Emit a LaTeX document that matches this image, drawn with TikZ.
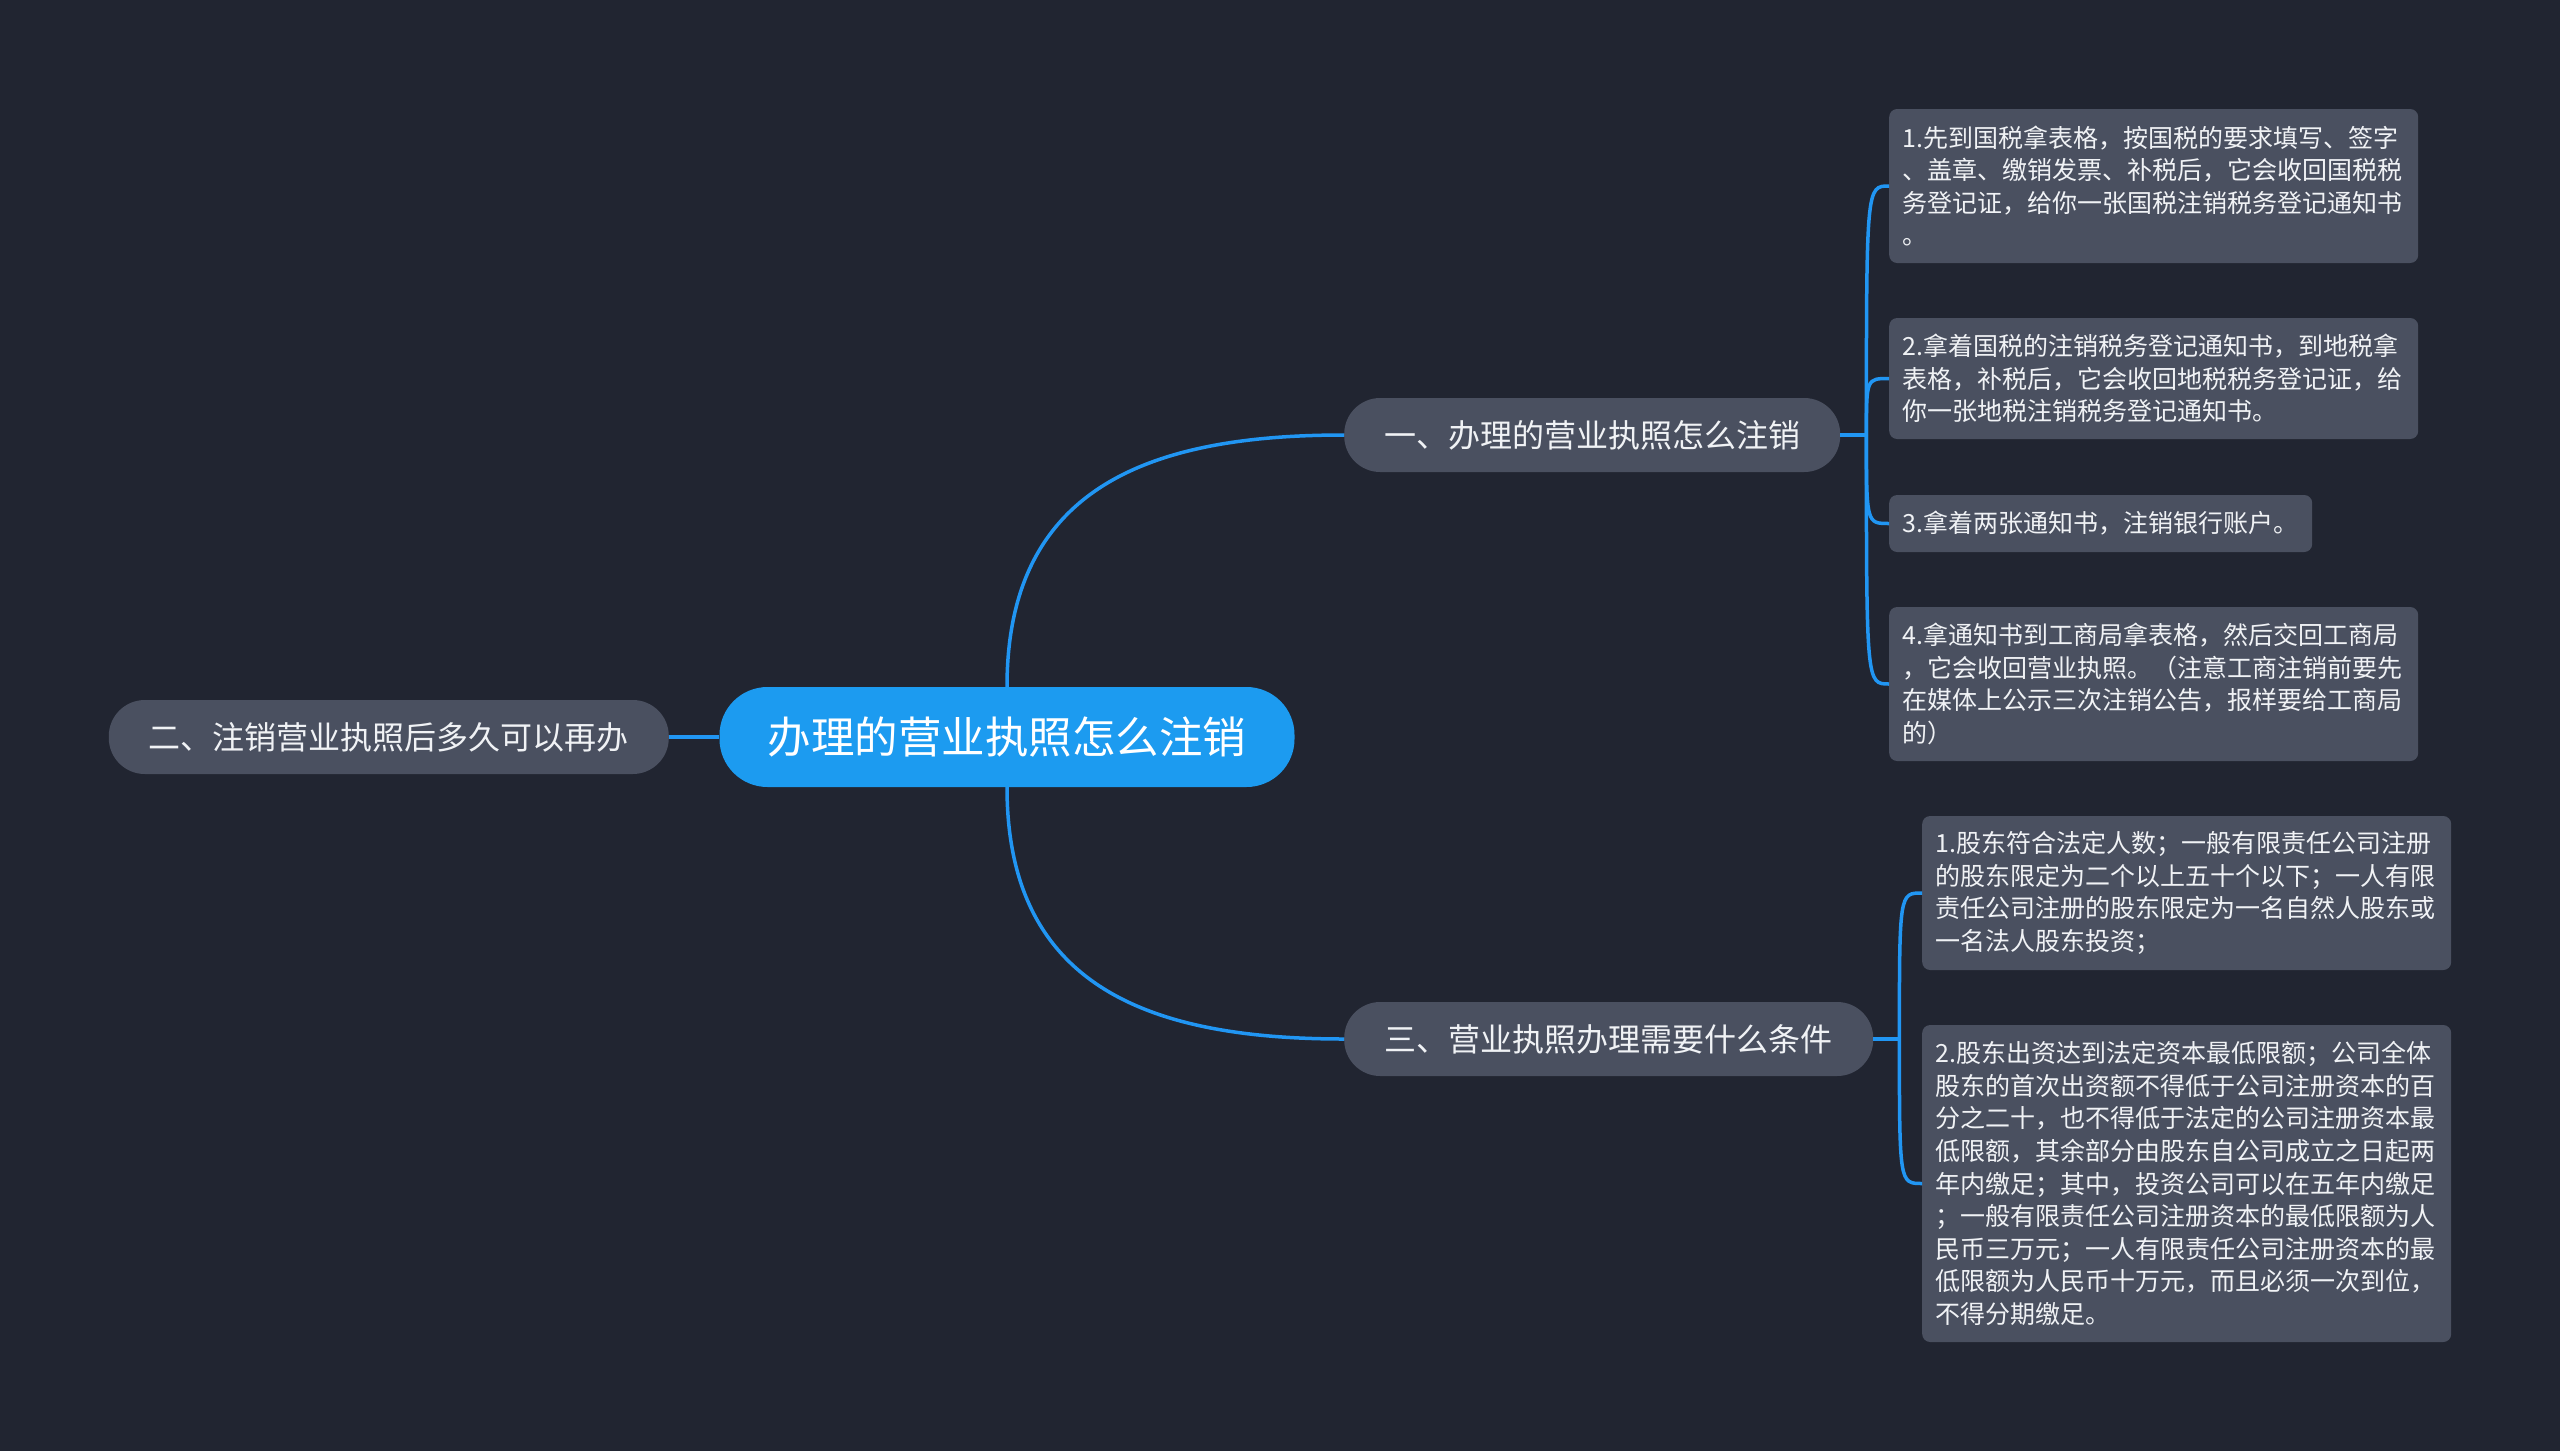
\documentclass[tikz,border=0pt]{standalone}
\usepackage{fontspec}
\newfontfamily\cjkfont{Noto Sans CJK SC}
\usepackage{xcolor}
\definecolor{bgdark}{RGB}{33,37,49}
\definecolor{nodegray}{RGB}{74,80,96}
\definecolor{rootblue}{RGB}{28,155,240}
\definecolor{linkblue}{RGB}{33,150,243}
\definecolor{txtwhite}{RGB}{240,242,245}
\usepackage{tikz}
\usetikzlibrary{calc}

\begin{document}
\begin{tikzpicture}[x=1pt,y=-1pt,
  link/.style={linkblue,line width=3.5pt},
  topic/.style={fill=nodegray,text=txtwhite,rounded corners=36pt,minimum height=74pt,
    inner sep=0pt,font=\cjkfont\fontsize{32}{38}\selectfont},
  leaf/.style={fill=nodegray,text=txtwhite,rounded corners=8pt,inner xsep=13pt,inner ysep=0pt,
    text width=503pt,align=left,font=\cjkfont\fontsize{25}{32.6}\selectfont}]
  % background, also fixes the page size
  \fill[bgdark] (0,0) rectangle (2560,1451);

  % centre topic
  \node[fill=rootblue,text=white,rounded corners=48pt,minimum width=575pt,minimum height=100pt,
    inner sep=0pt,font=\cjkfont\fontsize{43.5}{50}\selectfont] (root) at (1007,737) {办理的营业执照怎么注销};

  % main branches
  \node[topic,anchor=west,minimum width=496pt] (howto) at (1344,435) {一、办理的营业执照怎么注销};
  \node[topic,anchor=east,minimum width=560pt] (again) at (669,737) {二、注销营业执照后多久可以再办};
  \node[topic,anchor=west,minimum width=529pt] (needs) at (1344,1039) {三、营业执照办理需要什么条件};

  % steps of the first branch
  \node[leaf,anchor=west,minimum height=154pt] (st1) at (1889,186) {1.先到国税拿表格，按国税的要求填写、签字\\、盖章、缴销发票、补税后，它会收回国税税\\务登记证，给你一张国税注销税务登记通知书\\。};
  \node[leaf,anchor=west,minimum height=121pt] (st2) at (1889,378.5) {2.拿着国税的注销税务登记通知书，到地税拿\\表格，补税后，它会收回地税税务登记证，给\\你一张地税注销税务登记通知书。};
  \node[leaf,anchor=west,minimum height=57pt,text width=397pt] (st3) at (1889,523.5) {3.拿着两张通知书，注销银行账户。};
  \node[leaf,anchor=west,minimum height=154pt] (st4) at (1889,684) {4.拿通知书到工商局拿表格，然后交回工商局\\，它会收回营业执照。（注意工商注销前要先\\在媒体上公示三次注销公告，报样要给工商局\\的）};

  % conditions of the third branch
  \node[leaf,anchor=west,minimum height=154pt] (cd1) at (1922,893) {1.股东符合法定人数；一般有限责任公司注册\\的股东限定为二个以上五十个以下；一人有限\\责任公司注册的股东限定为一名自然人股东或\\一名法人股东投资；};
  \node[leaf,anchor=west,minimum height=317pt] (cd2) at (1922,1183.5) {2.股东出资达到法定资本最低限额；公司全体\\股东的首次出资额不得低于公司注册资本的百\\分之二十，也不得低于法定的公司注册资本最\\低限额，其余部分由股东自公司成立之日起两\\年内缴足；其中，投资公司可以在五年内缴足\\；一般有限责任公司注册资本的最低限额为人\\民币三万元；一人有限责任公司注册资本的最\\低限额为人民币十万元，而且必须一次到位，\\不得分期缴足。};

  % connectors from the centre
  \draw[link] (root.north) to[out=90,in=180,looseness=1.2] (howto.west);
  \draw[link] (root.south) to[out=-90,in=180,looseness=1.2] (needs.west);
  \draw[link] (root.west) -- (again.east);

  % brackets to the leaves
  \coordinate (fork1) at ($(howto.east)+(26,0)$);
  \coordinate (fork3) at ($(needs.east)+(26,0)$);
  \draw[link] (howto.east) -- (fork1);
  \draw[link] (needs.east) -- (fork3);
  \foreach \n in {st1,st2,st3,st4}
    \draw[link] (fork1) .. controls (fork1 |- \n.west) .. (\n.west);
  \foreach \n in {cd1,cd2}
    \draw[link] (fork3) .. controls (fork3 |- \n.west) .. (\n.west);
\end{tikzpicture}
\end{document}
